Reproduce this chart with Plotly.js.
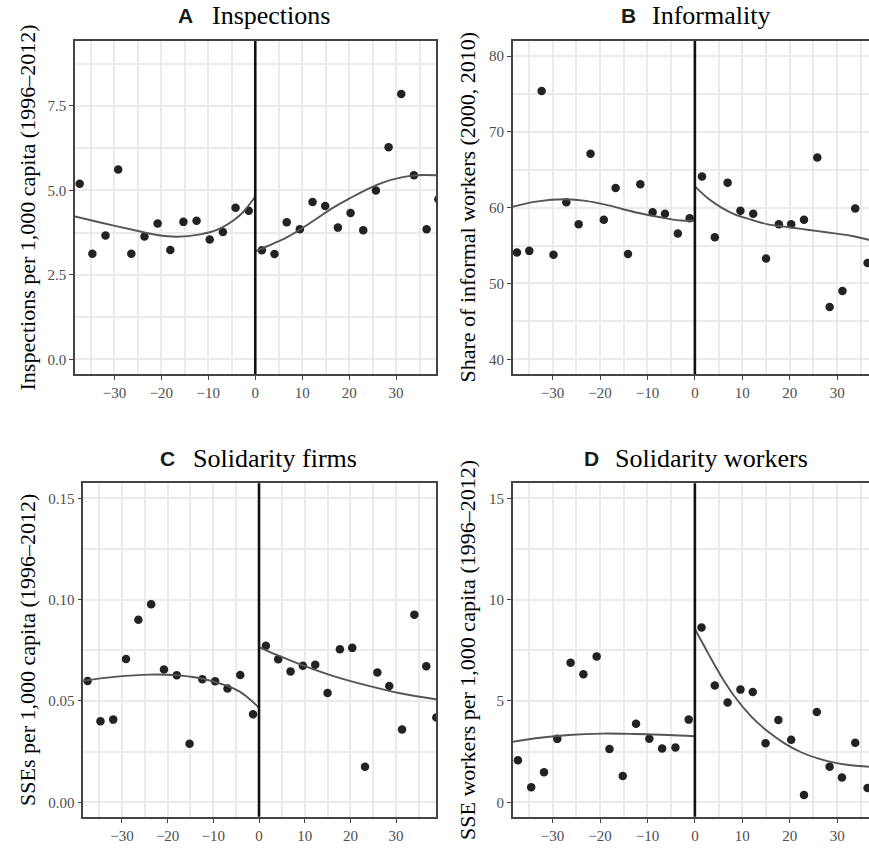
<!DOCTYPE html>
<html><head><meta charset="utf-8">
<script src="https://cdn.plot.ly/plotly-3.0.1.min.js"></script>
<style>.modebar-container,.modebar{display:none !important;}</style>
</head>
<body style="margin:0">
<div id="c" style="width:869px;height:848px"></div>
<script>
// ---------- Panel A: Inspections ----------
const inspX = [-37.4,-34.7,-31.9,-29.2,-26.4,-23.6,-20.8,-18.1,-15.3,-12.5,-9.7,-6.9,-4.2,-1.4,
               1.4,4.1,6.7,9.5,12.2,14.9,17.6,20.3,23.0,25.7,28.4,31.1,33.8,36.5,39.0];
const inspY = [5.20,3.13,3.67,5.62,3.13,3.64,4.02,3.24,4.07,4.10,3.55,3.77,4.49,4.40,
               3.23,3.12,4.06,3.85,4.66,4.54,3.90,4.33,3.82,5.00,6.28,7.85,5.45,3.85,4.74];
const inspFitLX = [-38.5,-33.0,-25.9,-20.9,-16.7,-11.7,-8.2,-4.6,-2.5,0];
const inspFitLY = [4.23,4.05,3.83,3.68,3.63,3.70,3.83,4.12,4.37,4.82];
const inspFitRX = [0,6.7,9.6,13.1,16.7,20.2,23.8,27.3,30.9,34.4,38.5];
const inspFitRY = [3.20,3.61,3.85,4.17,4.50,4.77,5.03,5.24,5.38,5.45,5.45];

// ---------- Panel B: Informality ----------
const infX = [-37.5,-34.9,-32.3,-29.8,-27.1,-24.5,-22.0,-19.2,-16.7,-14.1,-11.5,-8.9,-6.3,-3.6,-1.1,
              1.5,4.2,6.9,9.6,12.3,15.0,17.7,20.3,23.0,25.8,28.4,31.1,33.8,36.4];
const infY = [54.1,54.3,75.4,53.8,60.7,57.8,67.1,58.4,62.6,53.9,63.1,59.4,59.2,56.6,58.6,
              64.1,56.1,63.3,59.6,59.2,53.3,57.8,57.8,58.4,66.6,46.9,49.0,59.9,52.7];
const infFitLX = [-38.5,-33.5,-27.3,-23.0,-18.2,-12.6,-7.0,-2.8,0];
const infFitLY = [60.1,60.8,61.1,60.9,60.3,59.4,58.7,58.3,58.3];
const infFitRX = [0,2.8,5.6,8.4,11.9,15.4,18.9,22.4,25.9,29.4,32.9,36.4,38.5];
const infFitRY = [62.8,61.2,60.0,59.1,58.4,57.8,57.5,57.2,56.9,56.6,56.3,55.8,55.6];

// ---------- Panel C: Solidarity firms ----------
const firmX = [-37.5,-34.7,-31.9,-29.1,-26.4,-23.6,-20.8,-18.0,-15.2,-12.4,-9.6,-6.9,-4.1,-1.3,
               1.5,4.2,6.9,9.6,12.3,15.0,17.7,20.4,23.2,25.9,28.5,31.3,34.0,36.6,38.8];
const firmY = [0.0599,0.0400,0.0408,0.0707,0.0901,0.0977,0.0655,0.0627,0.0289,0.0607,0.0597,0.0561,0.0628,0.0434,
               0.0773,0.0706,0.0646,0.0674,0.0679,0.0539,0.0755,0.0762,0.0176,0.0640,0.0574,0.0359,0.0926,0.0671,0.0418];
const firmFitLX = [-38.5,-31.2,-23.9,-18.8,-12.9,-7.1,-4.2,-2.0,0];
const firmFitLY = [0.0600,0.0620,0.0630,0.0628,0.0612,0.0576,0.0546,0.0508,0.0466];
const firmFitRX = [0,3.9,9.0,16.3,23.6,30.9,38.8];
const firmFitRY = [0.0766,0.0727,0.0681,0.0623,0.0577,0.0538,0.0508];

// ---------- Panel D: Solidarity workers ----------
const wrkX = [-37.3,-34.5,-31.8,-29.0,-26.2,-23.5,-20.7,-18.0,-15.2,-12.4,-9.6,-6.9,-4.1,-1.3,
              1.4,4.2,6.9,9.6,12.2,14.9,17.6,20.3,23.0,25.7,28.4,31.0,33.8,36.4];
const wrkY = [2.07,0.74,1.48,3.13,6.89,6.32,7.20,2.63,1.30,3.88,3.14,2.65,2.70,4.08,
              8.63,5.76,4.92,5.56,5.44,2.91,4.06,3.09,0.36,4.46,1.76,1.22,2.94,0.71];
const wrkFitLX = [-38.5,-33.6,-26.6,-19.6,-12.6,-5.6,0];
const wrkFitLY = [2.98,3.16,3.32,3.39,3.37,3.32,3.26];
const wrkFitRX = [0,2.8,5.6,8.4,11.9,15.4,18.9,22.4,25.9,29.4,32.9,36.4,38.5];
const wrkFitRY = [8.55,7.35,6.20,5.21,4.23,3.49,2.91,2.47,2.17,1.96,1.83,1.76,1.72];

const titles = ['A','B','C','D'];
const titleTexts = ['Inspections','Informality','Solidarity firms','Solidarity workers'];
const yTitles = ['Inspections per 1,000 capita (1996\u20132012)',
                 'Share of informal workers (2000, 2010)',
                 'SSEs per 1,000 capita (1996\u20132012)',
                 'SSE workers per 1,000 capita (1996\u20132012)'];

const W = 869, H = 848;
const PT = '#222222', LINE = '#555555';

function panelTraces(ax, px, py, lx, ly, rx, ry) {
  const xa = 'x' + (ax === 1 ? '' : ax), ya = 'y' + (ax === 1 ? '' : ax);
  return [
    {x: px, y: py, xaxis: xa, yaxis: ya, mode: 'markers',
     marker: {color: PT, size: 8.5}, showlegend: false},
    {x: lx, y: ly, xaxis: xa, yaxis: ya, mode: 'lines',
     line: {color: LINE, width: 1.9, shape: 'spline'}, showlegend: false},
    {x: rx, y: ry, xaxis: xa, yaxis: ya, mode: 'lines',
     line: {color: LINE, width: 1.9, shape: 'spline'}, showlegend: false}
  ];
}

const data = [].concat(
  panelTraces(1, inspX, inspY, inspFitLX, inspFitLY, inspFitRX, inspFitRY),
  panelTraces(2, infX, infY, infFitLX, infFitLY, infFitRX, infFitRY),
  panelTraces(3, firmX, firmY, firmFitLX, firmFitLY, firmFitRX, firmFitRY),
  panelTraces(4, wrkX, wrkY, wrkFitLX, wrkFitLY, wrkFitRX, wrkFitRY)
);

function xAxis(domain, range, anchor) {
  return {domain: domain, range: range, anchor: anchor, dtick: 10, tick0: 0,
    showgrid: true, gridcolor: '#ebebeb', gridwidth: 2,
    minor: {dtick: 5, tick0: 0, showgrid: true, gridcolor: '#ebebeb', gridwidth: 1.6},
    zeroline: false,
    showline: true, linecolor: '#444', linewidth: 1.6, mirror: true,
    ticks: 'outside', ticklen: 4, tickwidth: 1.2, tickcolor: '#444',
    tickfont: {family: 'Liberation Serif', size: 15, color: '#4d4d4d'}};
}
function yAxis(domain, range, anchor, dtick, fmt, mirror) {
  return {domain: domain, range: range, anchor: anchor, dtick: dtick, tick0: 0,
    tickformat: fmt,
    showgrid: true, gridcolor: '#ebebeb', gridwidth: 2,
    minor: {dtick: dtick / 2, tick0: 0, showgrid: true, gridcolor: '#ebebeb', gridwidth: 1.6},
    zeroline: false,
    showline: true, linecolor: '#444', linewidth: 1.6, mirror: mirror,
    ticks: 'outside', ticklen: 4, tickwidth: 1.2, tickcolor: '#444',
    tickfont: {family: 'Liberation Serif', size: 15, color: '#4d4d4d'}};
}

const xdA = [75 / W, 436 / W], xdB = [512.7 / W, 1];
const xdC = [83.3 / W, 436 / W];
const ydTop = [(H - 374) / H, (H - 41) / H], ydBot = [(H - 816.7) / H, (H - 483.3) / H];

const layout = {
  width: W, height: H,
  margin: {l: 0, r: 0, t: 0, b: 0},
  showlegend: false,
  xaxis: xAxis(xdA, [-38.4, 38.5], 'y'),
  yaxis: yAxis(ydTop, [-0.43, 9.42], 'x', 2.5, '.1f', true),
  xaxis2: xAxis(xdB, [-38.4, 36.7], 'y2'),
  yaxis2: yAxis(ydTop, [38.06, 81.98], 'x2', 10, 'd', false),
  xaxis3: xAxis(xdC, [-38.45, 38.73], 'y3'),
  yaxis3: yAxis(ydBot, [-0.0071, 0.1574], 'x3', 0.05, '.2f', true),
  xaxis4: xAxis(xdB, [-38.4, 36.7], 'y4'),
  yaxis4: yAxis(ydBot, [-0.71, 15.74], 'x4', 5, 'd', false),
  annotations: [],
  shapes: []
};

for (let i = 1; i <= 4; i++) {
  const s = i === 1 ? '' : String(i);
  layout.shapes.push({type: 'line', xref: 'x' + s, yref: 'y' + s + ' domain',
    x0: 0, x1: 0, y0: 0, y1: 1, layer: 'above',
    line: {color: '#111111', width: 2.6}});
}

const letterLeft = [176, 619, 158, 582];
const textLeft = [210, 650, 191, 613];
const titleY = [16, 16, 458, 458];
const ytitlePos = [{x: 27, y: 207.5}, {x: 467, y: 207.5}, {x: 27, y: 650}, {x: 467, y: 650}];
for (let i = 0; i < 4; i++) {
  layout.annotations.push({
    xref: 'paper', yref: 'paper',
    x: letterLeft[i] / W, y: 1 - titleY[i] / H,
    xanchor: 'left', yanchor: 'middle', showarrow: false,
    text: '<b>' + titles[i] + '</b>',
    font: {family: 'Liberation Sans', size: 21, color: '#1a1a1a'}
  });
  layout.annotations.push({
    xref: 'paper', yref: 'paper',
    x: textLeft[i] / W, y: 1 - titleY[i] / H,
    xanchor: 'left', yanchor: 'middle', showarrow: false,
    text: titleTexts[i],
    font: {family: 'Liberation Serif', size: 26, color: '#000'}
  });
  layout.annotations.push({
    xref: 'paper', yref: 'paper',
    x: ytitlePos[i].x / W, y: 1 - ytitlePos[i].y / H,
    xanchor: 'center', yanchor: 'middle', showarrow: false, textangle: -90,
    text: yTitles[i],
    font: {family: 'Liberation Serif', size: 22, color: '#000'}
  });
}

Plotly.newPlot('c', data, layout);
</script></body></html>
